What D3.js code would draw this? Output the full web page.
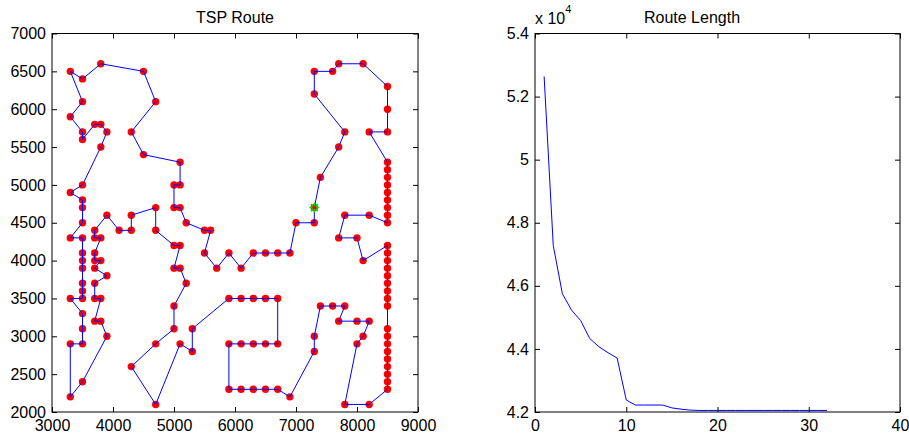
<!DOCTYPE html>
<html>
<head>
<meta charset="utf-8">
<script src="https://cdn.jsdelivr.net/npm/d3@7"></script>
<style>
body { margin: 0; background: #fff; }
text { font-family: "Liberation Sans", Arial, Helvetica, sans-serif; fill: #000; }
</style>
</head>
<body>
<svg id="chart" width="909" height="439"></svg>
<script>
// city coordinates in visiting order (tour starts at 7300,4700)
var cityX = [
  7300,7300,7000,6900,6700,6500,6300,6100,5900,5700,5500,5600,5500,5200,5100,5000,5000,5100,5100,
  4500,4300,4700,4500,3800,3500,3300,3500,3300,3500,3500,3700,3800,3900,3800,
  3500,3300,3500,3500,3500,3300,3500,3500,3500,3500,3500,3500,3500,3300,3500,3500,3500,3300,3300,3500,
  3900,3800,3700,3800,3700,3700,3900,3700,3800,3700,3700,3800,3700,3700,3900,4100,4300,4300,4700,4700,
  5000,5100,5000,5100,5200,5000,5000,4700,4300,4700,5100,5300,5300,
  5900,6100,6300,6500,6700,6700,6500,6300,6100,5900,5900,6100,6300,6500,6700,6900,
  7300,7300,7400,7600,7800,7700,8000,8200,8100,8000,7800,8200,
  8500,8500,8500,8500,8500,8500,8500,8500,8500,8500,8500,8500,8500,8500,8500,8500,8500,8500,
  8100,8000,7700,7800,8200,8500,8500,8500,8500,8500,8500,8500,8500,8500,
  8200,8500,8500,8500,8100,7700,7600,7300,7300,7800,7700,7400
];
var cityY = [
  4700,4500,4500,4100,4100,4100,4100,3900,4100,3900,4100,4400,4400,4500,4700,4700,5000,5000,5300,
  5400,5700,6100,6500,6600,6400,6500,6100,5900,5700,5600,5800,5800,5700,5500,
  5000,4900,4800,4700,4500,4300,4300,4100,4000,3900,3700,3600,3500,3500,3300,3100,2900,2900,2200,2400,
  3000,3200,3200,3500,3500,3700,3800,3900,4000,4000,4100,4300,4300,4400,4600,4400,4400,4600,4700,4400,
  4200,4200,3900,3900,3700,3400,3100,2900,2600,2100,2900,2800,3100,
  3500,3500,3500,3500,3500,2900,2900,2900,2900,2900,2300,2300,2300,2300,2300,2200,
  2800,3000,3400,3400,3400,3200,3200,3200,3000,2900,2100,2100,
  2300,2400,2500,2600,2700,2800,2900,3000,3100,3400,3500,3600,3700,3800,3900,4000,4100,4200,
  4000,4300,4300,4600,4600,4500,4600,4700,4800,4900,5000,5100,5200,5300,
  5700,5700,6000,6300,6600,6600,6500,6500,6200,5700,5500,5100
];

// best route length per iteration
var routeLength = [52640,47280,45750,45230,44900,44330,44070,43880,43710,42380,42220,42220,42220,42220,
  42130,42090,42060,42050,42050,42050,42050,42050,42050,42050,42050,42050,42050,42050,42050,42050,42050,42050];

var mapXTicks = [3000,4000,5000,6000,7000,8000,9000];
var mapYTicks = [2000,2500,3000,3500,4000,4500,5000,5500,6000,6500,7000];
var lenXTicks = [0,10,20,30,40];
var lenYTicks = [42000,44000,46000,48000,50000,52000,54000];

var svg = d3.select("#chart");
var fs = 16;

function drawAxes(x, y, xTicks, yTicks, yFmt) {
    var xr = x.range(), yr = y.range();
    var ax = svg.append("g");
    ax.append("g").attr("transform", "translate(0," + yr[0] + ")")
        .call(d3.axisBottom(x).tickValues(xTicks).tickSizeInner(-5).tickSizeOuter(0).tickPadding(8).tickFormat(d3.format("d")));
    ax.append("g").attr("transform", "translate(0," + yr[1] + ")")
        .call(d3.axisTop(x).tickValues(xTicks).tickSizeInner(-5).tickSizeOuter(0).tickFormat(""));
    ax.append("g").attr("transform", "translate(" + xr[0] + ",0)")
        .call(d3.axisLeft(y).tickValues(yTicks).tickSizeInner(-5).tickSizeOuter(0).tickPadding(6).tickFormat(yFmt));
    ax.append("g").attr("transform", "translate(" + xr[1] + ",0)")
        .call(d3.axisRight(y).tickValues(yTicks).tickSizeInner(-5).tickSizeOuter(0).tickFormat(""));
    ax.selectAll(".domain").remove();
    ax.selectAll(".tick line").attr("stroke", "#000");
    ax.selectAll(".tick text").attr("font-size", fs).attr("font-family", null);
    ax.append("rect")
        .attr("x", xr[0]).attr("y", yr[1])
        .attr("width", xr[1] - xr[0]).attr("height", yr[0] - yr[1])
        .attr("fill", "none").attr("stroke", "#000").attr("stroke-width", 1);
}

// ---- left: TSP route ----
var mx = d3.scaleLinear().domain([3000, 9000]).range([52, 418]);
var my = d3.scaleLinear().domain([2000, 7000]).range([412, 33.5]);

var cities = cityX.map(function(v, i) { return [v, cityY[i]]; });

svg.append("g").selectAll("circle")
    .data(cities).enter().append("circle")
    .attr("cx", function(d) { return mx(d[0]); })
    .attr("cy", function(d) { return my(d[1]); })
    .attr("r", 3.7)
    .attr("fill", "#ff0000");

var tour = cities.concat([cities[0]]);
svg.append("path")
    .attr("d", d3.line().x(function(d) { return mx(d[0]); }).y(function(d) { return my(d[1]); })(tour))
    .attr("fill", "none")
    .attr("stroke", "#0000ff")
    .attr("stroke-width", 1);

// start marker, matlab style asterisk
var sx = mx(cities[0][0]), sy = my(cities[0][1]), s = 5;
svg.append("path")
    .attr("d", "M" + (sx - s) + "," + sy + "H" + (sx + s) +
               "M" + sx + "," + (sy - s) + "V" + (sy + s) +
               "M" + (sx - s * 0.7) + "," + (sy - s * 0.7) + "L" + (sx + s * 0.7) + "," + (sy + s * 0.7) +
               "M" + (sx - s * 0.7) + "," + (sy + s * 0.7) + "L" + (sx + s * 0.7) + "," + (sy - s * 0.7))
    .attr("stroke", "#00dd00")
    .attr("stroke-width", 1.5);
svg.append("circle").attr("cx", sx).attr("cy", sy).attr("r", 2).attr("fill", "#ff0000");

drawAxes(mx, my, mapXTicks, mapYTicks, d3.format("d"));

svg.append("text").attr("x", 235).attr("y", 23)
    .attr("text-anchor", "middle").attr("font-size", fs).text("TSP Route");

// ---- right: route length ----
var lx = d3.scaleLinear().domain([0, 40]).range([535, 900]);
var ly = d3.scaleLinear().domain([42000, 54000]).range([412, 33.5]);

svg.append("path")
    .attr("d", d3.line().x(function(d, i) { return lx(i + 1); }).y(function(d) { return ly(d); })(routeLength))
    .attr("fill", "none")
    .attr("stroke", "#0000ff")
    .attr("stroke-width", 1);

drawAxes(lx, ly, lenXTicks, lenYTicks, function(d) { return String(+(d / 1e4).toFixed(1)); });

svg.append("text").attr("x", 692).attr("y", 23)
    .attr("text-anchor", "middle").attr("font-size", fs).text("Route Length");

var expo = svg.append("text").attr("x", 535).attr("y", 24).attr("font-size", fs);
expo.append("tspan").text("x 10");
expo.append("tspan").attr("dy", -11).attr("font-size", 11).text("4");
</script>
</body>
</html>
